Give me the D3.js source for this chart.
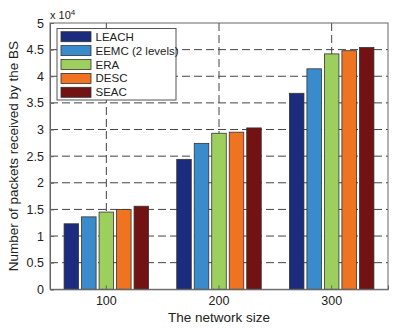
<!DOCTYPE html>
<html><head><meta charset="utf-8">
<script src="https://cdn.jsdelivr.net/npm/d3@7"></script>
<style>body{margin:0;background:#fff}svg{display:block}text{font-family:"Liberation Sans",Arial,sans-serif}</style>
</head><body><svg id="c" width="400" height="329"></svg>
<script>
const categories = ["100", "200", "300"];
const series = ["LEACH", "EEMC (2 levels)", "ERA", "DESC", "SEAC"];
const colors = ["#1b2b7e", "#3a8bcb", "#9dcf5e", "#f07322", "#731213"];
const values = [
  [1.23, 2.44, 3.68],
  [1.36, 2.74, 4.14],
  [1.45, 2.93, 4.42],
  [1.50, 2.95, 4.48],
  [1.56, 3.03, 4.54]
];
const yTicks = [0, 0.5, 1, 1.5, 2, 2.5, 3, 3.5, 4, 4.5, 5];

const svg = d3.select("#c");
const L = 50, R = 388, T = 23, B = 289.3;
const x = d3.scaleBand().domain(categories).range([L, R]).paddingInner(0).paddingOuter(0);
const y = d3.scaleLinear().domain([0, 5]).range([B, T]);
const groupW = x.bandwidth() * 0.75;
const xs = d3.scaleBand().domain(d3.range(series.length)).range([0, groupW]).paddingInner(0.17);

// grid
const g = svg.append("g");
g.selectAll(".gy").data(yTicks.slice(1, -1)).join("line")
  .attr("x1", L).attr("x2", R).attr("y1", d => y(d)).attr("y2", d => y(d))
  .attr("stroke", "#444").attr("stroke-width", 1).attr("stroke-dasharray", "8,4");
g.selectAll(".gx").data(categories).join("line")
  .attr("x1", d => x(d) + x.bandwidth() / 2).attr("x2", d => x(d) + x.bandwidth() / 2)
  .attr("y1", T).attr("y2", B)
  .attr("stroke", "#444").attr("stroke-width", 1).attr("stroke-dasharray", "8,4");

// bars
series.forEach((s, i) => {
  svg.append("g").selectAll("rect").data(values[i]).join("rect")
    .attr("x", (d, j) => x(categories[j]) + (x.bandwidth() - groupW) / 2 + xs(i))
    .attr("width", xs.bandwidth())
    .attr("y", d => y(d)).attr("height", d => B - y(d))
    .attr("fill", colors[i]).attr("stroke", "#333").attr("stroke-width", 0.8);
});

// box
svg.append("rect").attr("x", L).attr("y", T).attr("width", R - L).attr("height", B - T)
  .attr("fill", "none").attr("stroke", "#666").attr("stroke-width", 1);

// axes
const ya = svg.append("g").attr("transform", `translate(${L},0)`)
  .call(d3.axisLeft(y).tickValues(yTicks).tickFormat(d3.format("~g")).tickSize(-4).tickPadding(6));
const xa = svg.append("g").attr("transform", `translate(0,${B})`)
  .call(d3.axisBottom(x).tickSize(-4).tickPadding(7));
[ya, xa].forEach(a => {
  a.select(".domain").attr("stroke", "#666");
  a.selectAll(".tick line").attr("stroke", "#666");
  a.selectAll("text").attr("font-size", 12.5).attr("fill", "#222").attr("font-family", '"Liberation Sans",Arial,sans-serif');
});

// exponent
const ex = svg.append("text").attr("x", 50).attr("y", 19).attr("font-size", 11).attr("fill", "#222");
ex.append("tspan").text("x 10");
ex.append("tspan").attr("dy", -4).attr("font-size", 8).text("4");

// axis labels
svg.append("text").attr("x", (L + R) / 2).attr("y", 322).attr("text-anchor", "middle")
  .attr("font-size", 13.5).attr("fill", "#222").text("The network size");
svg.append("text").attr("transform", `translate(18,${(T + B) / 2}) rotate(-90)`).attr("text-anchor", "middle")
  .attr("font-size", 13.5).attr("fill", "#222").text("Number of packets received by the BS");

// legend
const lg = svg.append("g");
lg.append("rect").attr("x", 57).attr("y", 28.5).attr("width", 119).attr("height", 71.5)
  .attr("fill", "#fff").attr("stroke", "#555").attr("stroke-width", 1);
series.forEach((s, i) => {
  const cy = 36.7 + i * 13.9;
  lg.append("rect").attr("x", 61).attr("y", cy - 5).attr("width", 30).attr("height", 10)
    .attr("fill", colors[i]).attr("stroke", "#333").attr("stroke-width", 0.8);
  lg.append("text").attr("x", 95.5).attr("y", cy + 4).attr("font-size", 11.5).attr("fill", "#222").text(s);
});
</script></body></html>
